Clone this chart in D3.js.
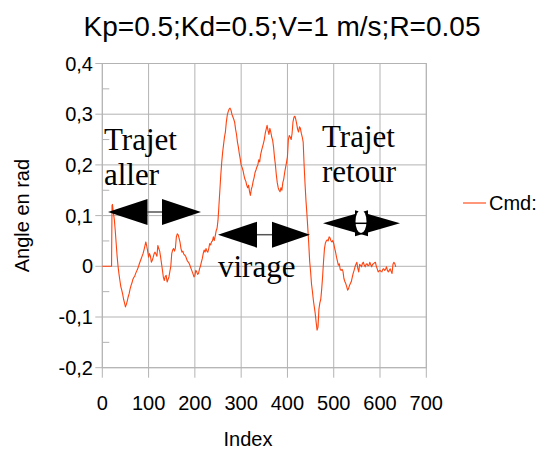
<!DOCTYPE html>
<html>
<head>
<meta charset="utf-8">
<script src="https://cdn.jsdelivr.net/npm/d3@7"></script>
<style>
  html, body { margin: 0; padding: 0; background: #fff; }
  svg { display: block; font-family: "Liberation Sans", Arial, sans-serif; }
</style>
</head>
<body>
<svg id="chart" width="539" height="451"></svg>
<script>
/* Cmd: angle command vs. sample index */

const TITLE = "Kp=0.5;Kd=0.5;V=1 m/s;R=0.05";
const X_TICKS = [0, 100, 200, 300, 400, 500, 600, 700];
const Y_TICKS = [-0.2, -0.1, 0, 0.1, 0.2, 0.3, 0.4];
const Y_LABELS = ["-0,2", "-0,1", "0", "0,1", "0,2", "0,3", "0,4"];

const index = [
  0, 20, 21, 22, 24, 26, 28, 30, 32, 34, 36, 38, 40, 42, 44, 46, 48, 50, 52, 54,
  56, 58, 60, 62, 64, 66, 68, 70, 72, 74, 76, 78, 80, 82, 84, 86, 88, 90, 92, 94,
  96, 98, 100, 102, 104, 106, 108, 110, 112, 114, 116, 118, 120, 122, 124, 126, 128, 130, 132, 134,
  136, 138, 140, 142, 144, 146, 148, 150, 152, 154, 156, 158, 160, 162, 164, 166, 168, 170, 172, 174,
  176, 178, 180, 182, 184, 186, 188, 190, 192, 194, 196, 198, 200, 202, 204, 206, 208, 210, 212, 214,
  216, 218, 220, 222, 224, 226, 228, 230, 232, 234, 236, 238, 240, 242, 244, 246, 248, 250, 252, 254,
  256, 258, 260, 262, 264, 266, 268, 270, 272, 274, 276, 278, 280, 282, 284, 286, 288, 290, 292, 294,
  296, 298, 300, 302, 304, 306, 308, 310, 312, 314, 316, 318, 320, 322, 324, 326, 328, 330, 332, 334,
  336, 338, 340, 342, 344, 346, 348, 350, 352, 354, 356, 358, 360, 362, 364, 366, 368, 370, 372, 374,
  376, 378, 380, 382, 384, 386, 388, 390, 392, 394, 396, 398, 400, 402, 404, 406, 408, 410, 412, 414,
  416, 418, 420, 422, 424, 426, 428, 430, 432, 434, 436, 438, 440, 442, 444, 446, 448, 450, 452, 454,
  456, 458, 460, 462, 464, 466, 468, 470, 472, 474, 476, 478, 480, 482, 484, 486, 488, 490, 492, 494,
  496, 498, 500, 502, 504, 506, 508, 510, 512, 514, 516, 518, 520, 522, 524, 526, 528, 530, 532, 534,
  536, 538, 540, 542, 544, 546, 548, 550, 552, 554, 556, 558, 560, 562, 564, 566, 568, 570, 572, 574,
  576, 578, 580, 582, 584, 586, 588, 590, 592, 594, 596, 598, 600, 602, 604, 606, 608, 610, 612, 614,
  616, 618, 620, 622, 624, 626, 628, 630, 632, 634
];

const cmd = [
  0, 0, 0.12, 0.122, 0.105, 0.092, 0.07, 0.045, 0.02, 0.0, -0.015, -0.028, -0.04, -0.047, -0.055, -0.065, -0.072, -0.08, -0.075, -0.068,
  -0.06, -0.054, -0.045, -0.038, -0.033, -0.026, -0.022, -0.02, -0.014, -0.01, -0.006, -0.001, 0.005, 0.01, 0.015, 0.02, 0.025, 0.032, 0.04, 0.048,
  0.04, 0.03, 0.018, 0.025, 0.02, 0.008, 0.012, 0.018, 0.025, 0.028, 0.024, 0.02, 0.041, 0.035, 0.03, 0.018, 0.005, -0.008, -0.022, -0.028,
  -0.02, -0.018, -0.031, -0.026, -0.021, -0.01, 0.0, 0.025, 0.032, 0.035, 0.03, 0.036, 0.058, 0.064, 0.062, 0.055, 0.047, 0.035, 0.028, 0.03,
  0.024, 0.022, 0.02, 0.015, 0.01, 0.008, 0.005, 0.0, -0.005, -0.01, -0.015, -0.021, -0.018, -0.008, -0.011, -0.016, -0.014, -0.005, 0.0, 0.008,
  0.015, 0.025, 0.032, 0.028, 0.035, 0.03, 0.028, 0.035, 0.045, 0.042, 0.048, 0.05, 0.058, 0.051, 0.06, 0.07, 0.075, 0.091, 0.12, 0.15,
  0.18, 0.205, 0.225, 0.24, 0.255, 0.265, 0.285, 0.298, 0.305, 0.31, 0.312, 0.308, 0.3, 0.295, 0.29, 0.284, 0.27, 0.26, 0.245, 0.235,
  0.222, 0.212, 0.2, 0.195, 0.189, 0.18, 0.172, 0.168, 0.16, 0.155, 0.16, 0.148, 0.14, 0.152, 0.158, 0.168, 0.175, 0.185, 0.19, 0.196,
  0.2, 0.21, 0.206, 0.22, 0.228, 0.235, 0.242, 0.25, 0.262, 0.27, 0.278, 0.268, 0.26, 0.272, 0.265, 0.255, 0.249, 0.235, 0.215, 0.2,
  0.18, 0.165, 0.155, 0.15, 0.147, 0.155, 0.15, 0.165, 0.172, 0.185, 0.195, 0.205, 0.216, 0.25, 0.258, 0.255, 0.25, 0.262, 0.285, 0.294,
  0.296, 0.29, 0.281, 0.27, 0.265, 0.275, 0.272, 0.262, 0.255, 0.245, 0.2, 0.163, 0.13, 0.104, 0.075, 0.045, 0.01, -0.01, -0.035, -0.05,
  -0.067, -0.08, -0.093, -0.11, -0.126, -0.12, -0.085, -0.072, -0.065, -0.045, -0.02, 0.01, 0.035, 0.046, 0.05, 0.052, 0.05, 0.058, 0.056, 0.05,
  0.048, 0.051, 0.045, 0.036, 0.028, 0.018, 0.01, 0.002, 0.005, -0.006, -0.008, -0.006, -0.01, -0.024, -0.03, -0.034, -0.04, -0.047, -0.044, -0.038,
  -0.034, -0.03, -0.022, -0.014, -0.008, -0.001, 0.004, 0.008, -0.004, -0.011, 0.004, 0.002, -0.001, 0.006, 0.008, 0.002, -0.001, 0.004, 0.005, 0.001,
  0.002, 0.008, 0.003, -0.001, 0.004, 0.005, 0.007, 0.008, 0.0, -0.005, -0.011, -0.009, -0.008, -0.01, -0.011, -0.006, -0.005, -0.008, -0.006, -0.001,
  -0.008, -0.011, -0.008, -0.005, -0.01, -0.014, 0.004, 0.008, 0.005, -0.001
];

// annotation texts
const NOTES = [
  { lines: ["Trajet", "aller"], x: 104, y: 150 },
  { lines: ["virage"], x: 218, y: 277 },
  { lines: ["Trajet", "retour"], x: 322, y: 147 }
];

const svg = d3.select("#chart");
const W = 539, H = 451;
const margin = { top: 63.5, right: 112.7, bottom: 83.3, left: 102.3 };
const GRID = "#b3b3b3";
const LINE = "#ff420e";

const x = d3.scaleLinear().domain([0, 700]).range([margin.left, W - margin.right]);
const y = d3.scaleLinear().domain([-0.2, 0.4]).range([H - margin.bottom, margin.top]);

// title
svg.append("text")
  .attr("x", 282).attr("y", 36)
  .attr("text-anchor", "middle")
  .attr("font-size", 28)
  .attr("fill", "#000")
  .text(TITLE);

// grid
const grid = svg.append("g").attr("stroke", GRID).attr("stroke-width", 1);
grid.selectAll(".gx").data(X_TICKS).enter().append("line")
  .attr("x1", d => x(d)).attr("x2", d => x(d))
  .attr("y1", y(0.4)).attr("y2", y(-0.2) + 10);
grid.selectAll(".gy").data(Y_TICKS).enter().append("line")
  .attr("x1", x(0) - 7).attr("x2", x(700))
  .attr("y1", d => y(d)).attr("y2", d => y(d));
// minor ticks on y, inside
grid.selectAll(".my").data(Y_TICKS.slice(0, -1)).enter().append("line")
  .attr("x1", x(0)).attr("x2", x(0) + 7)
  .attr("y1", d => y(d + 0.05)).attr("y2", d => y(d + 0.05));

// frame
svg.append("rect")
  .attr("x", x(0)).attr("y", y(0.4))
  .attr("width", x(700) - x(0)).attr("height", y(-0.2) - y(0.4))
  .attr("fill", "none").attr("stroke", GRID);

// tick labels
svg.append("g").selectAll("text").data(X_TICKS).enter().append("text")
  .attr("x", d => x(d)).attr("y", 410)
  .attr("text-anchor", "middle")
  .attr("font-size", 20)
  .text(d => d);

svg.append("g").selectAll("text").data(Y_TICKS).enter().append("text")
  .attr("x", 93).attr("y", d => y(d) + 7)
  .attr("text-anchor", "end")
  .attr("font-size", 20)
  .text((d, i) => Y_LABELS[i]);

// axis titles
svg.append("text")
  .attr("x", 248).attr("y", 446)
  .attr("text-anchor", "middle")
  .attr("font-size", 20)
  .text("Index");

svg.append("text")
  .attr("transform", `translate(29,${(y(0.4) + y(-0.2)) / 2}) rotate(-90)`)
  .attr("text-anchor", "middle")
  .attr("font-size", 20)
  .text("Angle en rad");

// series
const pts = index.map((d, i) => [d, cmd[i]]);
svg.append("path")
  .datum(pts)
  .attr("fill", "none")
  .attr("stroke", LINE)
  .attr("stroke-width", 1.1)
  .attr("stroke-linejoin", "round")
  .attr("d", d3.line().x(d => x(d[0])).y(d => y(d[1])));

// legend
svg.append("line")
  .attr("x1", 463).attr("x2", 486).attr("y1", 203).attr("y2", 203)
  .attr("stroke", LINE).attr("stroke-width", 1.1);
svg.append("text")
  .attr("x", 489).attr("y", 210)
  .attr("font-size", 20)
  .text("Cmd:");

// annotations
const ann = svg.append("g").attr("font-family", "'Liberation Serif', 'Times New Roman', serif");
NOTES.forEach(n => {
  n.lines.forEach((t, i) => {
    ann.append("text")
      .attr("x", n.x).attr("y", n.y + i * 35)
      .attr("font-size", 31)
      .attr("fill", "#000")
      .text(t);
  });
});

function doubleArrow(x1, xb1, xb2, x2, cy, hh) {
  const g = svg.append("g");
  g.append("line")
    .attr("x1", xb1).attr("x2", xb2).attr("y1", cy).attr("y2", cy)
    .attr("stroke", "#555").attr("stroke-width", 1.5);
  g.append("path")
    .attr("d", `M${x1},${cy} L${xb1},${cy - hh} L${xb1},${cy + hh} Z`)
    .attr("fill", "#000");
  g.append("path")
    .attr("d", `M${x2},${cy} L${xb2},${cy - hh} L${xb2},${cy + hh} Z`)
    .attr("fill", "#000");
  return g;
}

doubleArrow(108, 147.5, 162, 201, 212, 13);
doubleArrow(218, 257, 272, 310, 234.7, 13);
const a3 = doubleArrow(323, 368, 355, 400, 223.3, 13);
a3.append("ellipse")
  .attr("cx", 361).attr("cy", 221.5).attr("rx", 5.5).attr("ry", 11.5)
  .attr("fill", "#fff");
a3.append("line")
  .attr("x1", 355).attr("x2", 367).attr("y1", 223.3).attr("y2", 223.3)
  .attr("stroke", "#000").attr("stroke-width", 1.5);
</script>
</body>
</html>
